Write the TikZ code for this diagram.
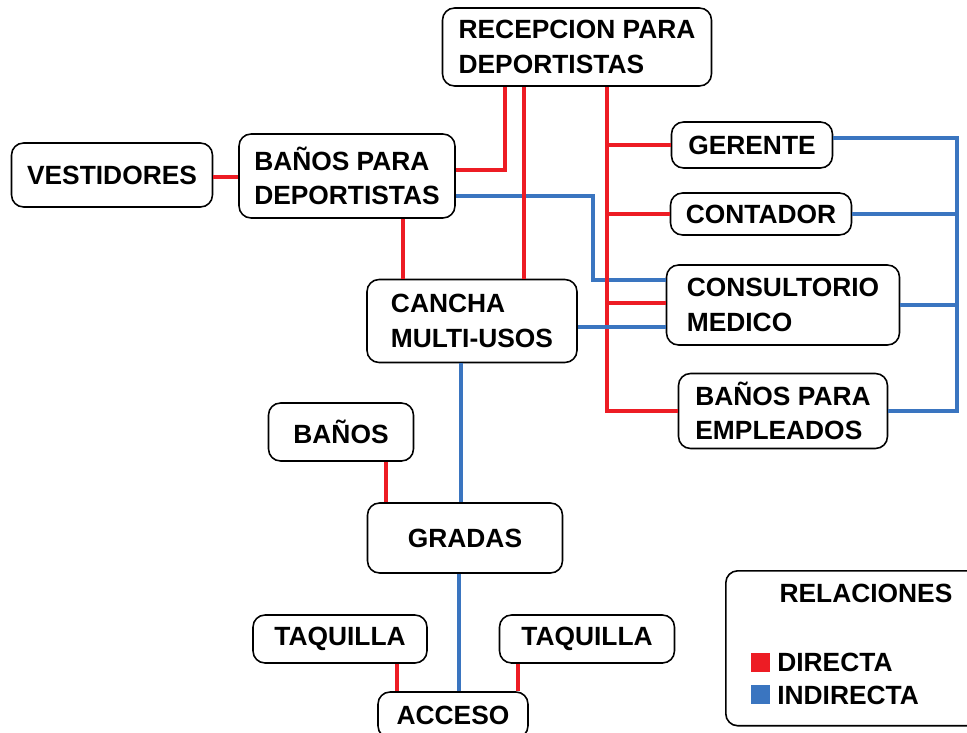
\documentclass[tikz,border=0pt]{standalone}
\usepackage{fontspec}
\setmainfont{Liberation Sans}
\definecolor{rojo}{RGB}{237,28,36}
\definecolor{azul}{RGB}{58,117,192}
\tikzset{
  caja/.style={draw, line width=0.9pt, rounded corners=0.24cm, fill=white, align=left, inner sep=3pt},
  directa/.style={rojo, line width=2.8pt},
  indirecta/.style={azul, line width=2.8pt},
}
\begin{document}
\begin{tikzpicture}[x=0.02cm,y=-0.02cm,font=\bfseries\fontsize{15}{19.5}\selectfont]
\useasboundingbox (0,0) rectangle (967,733);
\clip (0,0) rectangle (967,733);
% cajas
\node[caja, minimum width=5.38cm, minimum height=1.56cm] (recep) at (577,47) {RECEPCION PARA\\DEPORTISTAS};
\node[caja, minimum width=4.02cm, minimum height=1.28cm] (vest) at (112,175) {VESTIDORES};
\node[caja, minimum width=4.32cm, minimum height=1.68cm] (banosdep) at (347,176) {BAÑOS PARA\\DEPORTISTAS};
\node[caja, minimum width=3.22cm, minimum height=0.92cm] (gerente) at (752,145) {GERENTE};
\node[caja, minimum width=3.62cm, minimum height=0.84cm] (contador) at (761,214) {CONTADOR};
\node[caja, minimum width=4.66cm, minimum height=1.6cm] (consult) at (783,305) {CONSULTORIO\\MEDICO};
\node[caja, minimum width=4.18cm, minimum height=1.5cm] (banosemp) at (783,411) {BAÑOS PARA\\EMPLEADOS};
\node[caja, minimum width=4.2cm, minimum height=1.66cm] (cancha) at (472,321) {CANCHA\\MULTI-USOS};
\node[caja, minimum width=2.9cm, minimum height=1.16cm] (banos) at (341,432) {BAÑOS};
\node[caja, minimum width=3.9cm, minimum height=1.4cm] (gradas) at (465,538) {GRADAS};
\node[caja, minimum width=3.48cm, minimum height=0.96cm] (taqizq) at (340,639) {TAQUILLA};
\node[caja, minimum width=3.5cm, minimum height=0.96cm] (taqder) at (587,639) {TAQUILLA};
\node[caja, minimum width=3cm, minimum height=0.92cm] (acceso) at (453,715) {ACCESO};
% leyenda
\node[caja, minimum width=5.3cm, minimum height=3.1cm, anchor=north west] (leyenda) at (725,570) {};
\node (relac) at (866,593) {RELACIONES};
\node[fill=rojo, minimum size=0.38cm, inner sep=0pt] (cuadrorojo) at (760,662) {};
\node[anchor=west, inner sep=0pt] (txtdirecta) at (777,662) {DIRECTA};
\node[fill=azul, minimum size=0.38cm, inner sep=0pt] (cuadroazul) at (760,694) {};
\node[anchor=west, inner sep=0pt] (txtindirecta) at (777,695) {INDIRECTA};
% relaciones
\coordinate (tronco) at (607,0);
\coordinate (bus) at (957,0);
\draw[indirecta] (banosdep.east |- 0,196) -| (593,280) -- (consult.west |- 0,280);
\draw[directa] (vest.east |- 0,177) -- (banosdep.west |- 0,177);
\draw[directa] (banosdep.east |- 0,170) -| (recep.south -| 505,0);
\draw[directa] (recep.south -| 524,0) -- (cancha.north -| 524,0);
\draw[directa] (banosdep.south -| 403,0) -- (cancha.north -| 403,0);
\draw[directa] (recep.south -| tronco) |- (banosemp.west);
\draw[directa] (tronco |- gerente.west) -- (gerente.west);
\draw[directa] (tronco |- contador.west) -- (contador.west);
\draw[directa] (tronco |- 0,303) -- (consult.west |- 0,303);
\draw[indirecta] (cancha.east |- 0,327) -- (consult.west |- 0,327);
\draw[indirecta] (gerente.east |- 0,138) -| (bus |- banosemp.east) -- (banosemp.east);
\draw[indirecta] (contador.east) -- (bus |- contador.east);
\draw[indirecta] (consult.east) -- (bus |- consult.east);
\draw[indirecta] (cancha.south -| 461,0) -- (gradas.north -| 461,0);
\draw[indirecta] (gradas.south -| 459,0) -- (acceso.north -| 459,0);
\draw[directa] (banos.south -| 386,0) -- (gradas.north -| 386,0);
\draw[directa] (taqizq.south -| 397,0) -- (acceso.north -| 397,0);
\draw[directa] (taqder.south -| 518,0) -- (acceso.north -| 518,0);
\end{tikzpicture}
\end{document}
